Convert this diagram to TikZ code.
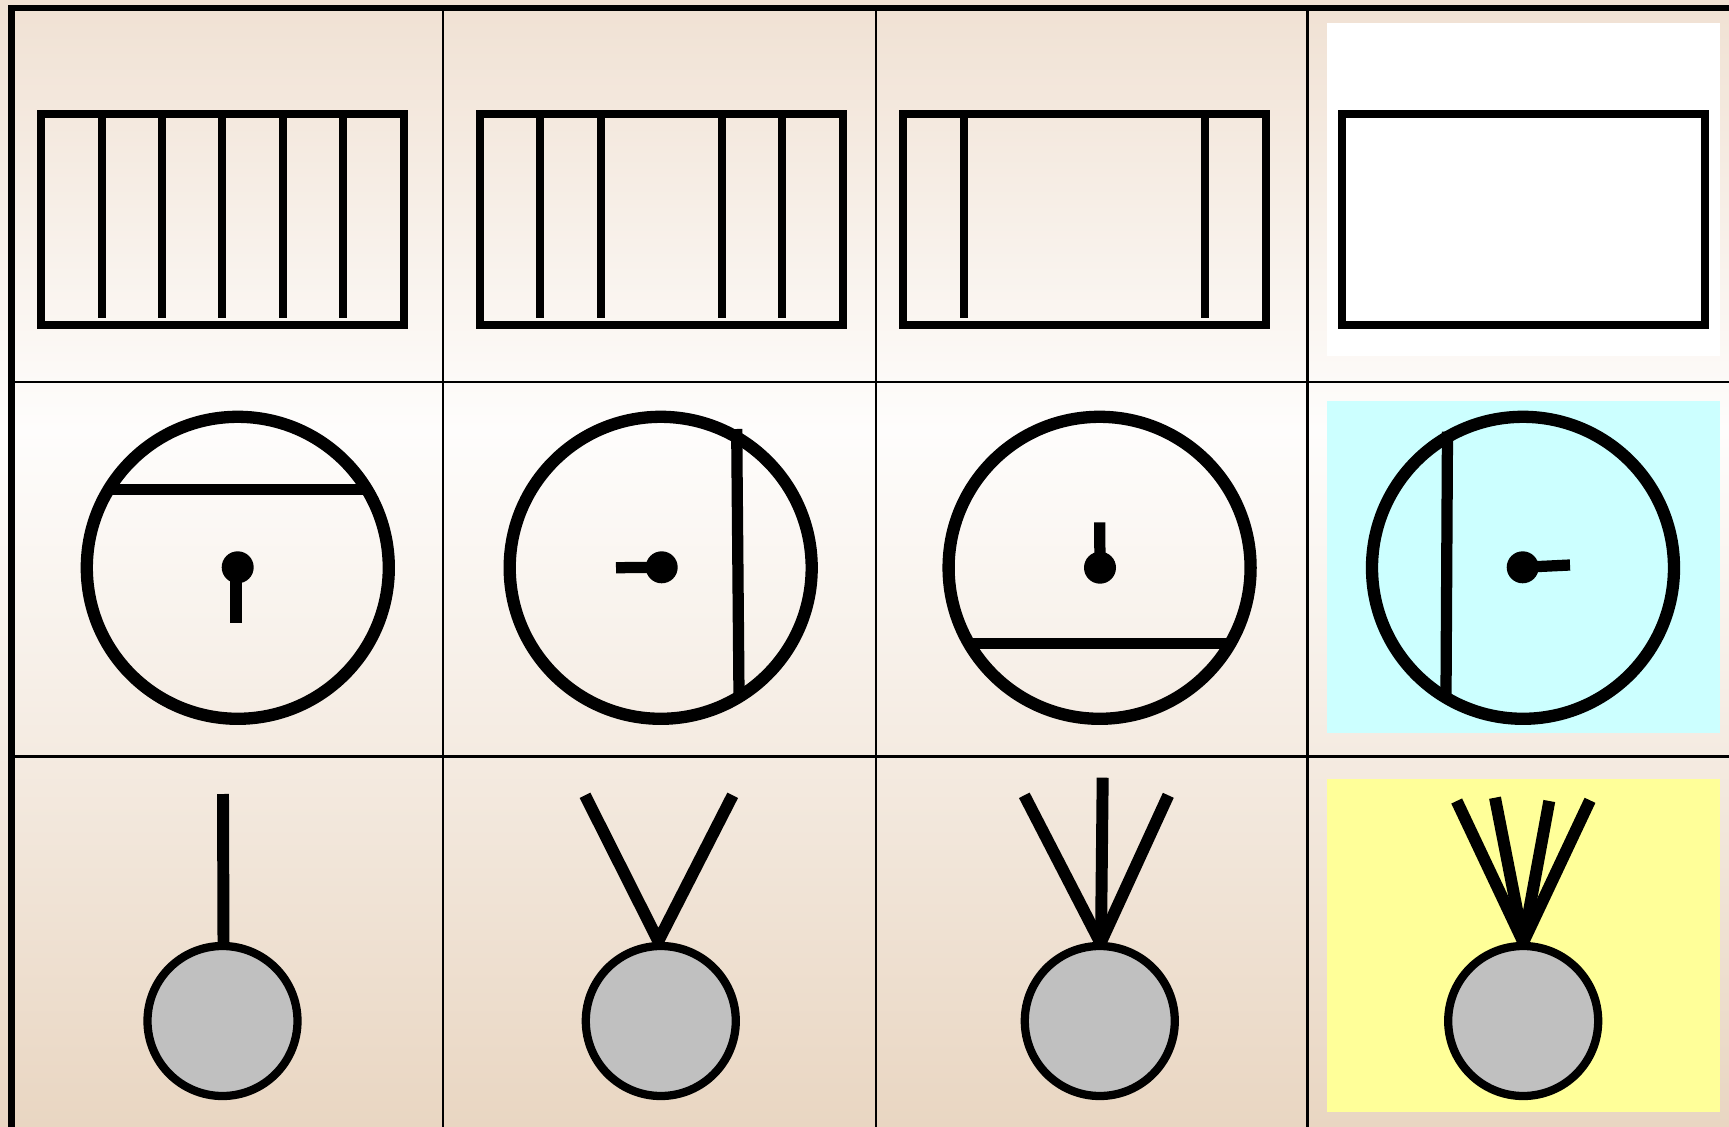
\documentclass[tikz,border=0pt]{standalone}
\definecolor{bgtop}{RGB}{240,225,211}
\definecolor{bgmid}{RGB}{254,253,252}
\definecolor{bgbot}{RGB}{233,214,194}
\definecolor{cyanbox}{RGB}{204,255,255}
\definecolor{yellowbox}{RGB}{255,255,153}
\definecolor{ballgray}{RGB}{192,192,192}
\tikzset{
  gridthin/.style={line width=0.72pt, black},
  gridthick/.style={line width=1.8pt, black},
  boxline/.style={line width=2.35pt, black},
  barline/.style={line width=2.3pt, black},
  ringline/.style={line width=3.5pt, black},
  stickline/.style={line width=3.2pt, black},
  ballline/.style={line width=2.35pt, black, fill=ballgray},
  rayline/.style={line width=3.4pt, black},
}
\begin{document}
\begin{tikzpicture}[x=0.01cm,y=-0.01cm]
\useasboundingbox (0,0) rectangle (1729,1127);
% background gradient
\shade[top color=bgtop, bottom color=bgmid] (0,0) rectangle (1729,430);
\shade[top color=bgmid, bottom color=bgbot] (0,429.5) rectangle (1729,1127);
% highlight panels
\fill[white] (1326.7,22.7) rectangle (1720,356);
\fill[cyanbox] (1326.7,400.7) rectangle (1720,733.3);
\fill[yellowbox] (1326.7,779.3) rectangle (1720,1112);
% grid
\draw[gridthin] (443,8) -- (443,1127);
\draw[gridthin] (876,8) -- (876,1127);
\draw[gridthin] (1307.5,8) -- (1307.5,1127);
\draw[gridthin] (11,382) -- (1729,382);
\draw[gridthin] (11,756.5) -- (1729,756.5);
\draw[gridthick] (8,8.3) -- (1729,8.3);
\draw[gridthick] (11.5,5) -- (11.5,1127);
% row 1: boxes with bars
\draw[boxline] (41,114) rectangle (404,325);
\foreach \x in {101.7,162.3,222.3,283,343.3}
  \draw[barline] (\x,114) -- (\x,318);
\draw[boxline] (480,114) rectangle (842.7,325);
\foreach \x in {540.3,601,722,782.3}
  \draw[barline] (\x,114) -- (\x,318);
\draw[boxline] (903,114) rectangle (1266,325);
\foreach \x in {963.8,1205.3}
  \draw[barline] (\x,114) -- (\x,318);
\draw[boxline] (1341.7,114) rectangle (1704.7,325);
% row 2: dials
\coordinate (d1) at (237.8,567.8);
\coordinate (d2) at (660.7,567.8);
\coordinate (d3) at (1099.6,567.8);
\coordinate (d4) at (1523,567.8);
\foreach \c in {d1,d2,d3,d4}
  \draw[ringline] (\c) circle[radius=151];
\draw[stickline] (110,489.3) -- (366.7,489.3);
\draw[stickline] (236,567.3) -- (236,623.3);
\fill (237.7,567.3) circle[radius=16];
\draw[stickline] (736.7,429) -- (739,695);
\draw[stickline] (616,567.7) -- (661.7,567.3);
\fill (661.7,567.3) circle[radius=16];
\draw[stickline] (971.7,643.3) -- (1228.3,643.3);
\draw[stickline] (1099.7,522.3) -- (1100,567.7);
\fill (1100,567.7) circle[radius=16];
\draw[stickline] (1447.5,431.7) -- (1446,696);
\draw[stickline] (1522.7,567.3) -- (1570,565);
\fill (1522.7,567.3) circle[radius=16];
% row 3: balls with rays
\draw[rayline] (223,794) -- (223.5,942);
\draw[ballline] (222.5,1021) circle[radius=75];
\draw[rayline] (585,795.3) -- (658.3,941) -- (732.7,795.3);
\draw[ballline] (660.8,1021) circle[radius=75];
\draw[rayline] (1024.3,795.3) -- (1100,942);
\draw[rayline] (1102.7,777.7) -- (1101,942);
\draw[rayline] (1168.3,795.3) -- (1101,942);
\draw[ballline] (1099.8,1021) circle[radius=75];
\draw[rayline] (1456.7,801) -- (1523.3,942);
\draw[rayline] (1495,797.7) -- (1523.3,942);
\draw[rayline] (1549.3,801) -- (1523.3,942);
\draw[rayline] (1590,800.3) -- (1523.3,942);
\draw[ballline] (1523.2,1021) circle[radius=75];
\end{tikzpicture}
\end{document}
